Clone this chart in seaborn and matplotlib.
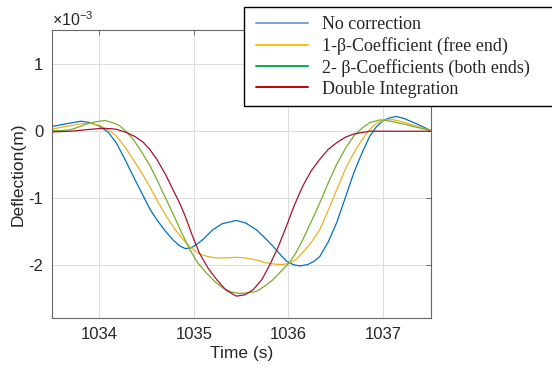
import numpy as np
import pandas as pd
import matplotlib
matplotlib.use("Agg")
import matplotlib.pyplot as plt
from matplotlib.lines import Line2D
from matplotlib.patches import Rectangle
import seaborn as sns

# ---- data (deflection in units of 1e-3 m) ----
labels = ["No correction", "1-β-Coefficient (free end)",
          "2- β-Coefficients (both ends)", "Double Integration"]

t_blue = [1033.5, 1033.65, 1033.81, 1033.9, 1034.0, 1034.1, 1034.18, 1034.27, 1034.36, 1034.45,
          1034.54, 1034.61, 1034.7, 1034.78, 1034.85, 1034.91, 1034.97, 1035.03, 1035.1, 1035.2,
          1035.3, 1035.45, 1035.55, 1035.66, 1035.75, 1035.84, 1035.92, 1035.98, 1036.05, 1036.12,
          1036.2, 1036.27, 1036.33, 1036.42, 1036.51, 1036.6, 1036.69, 1036.78, 1036.86, 1036.93,
          1037.0, 1037.07, 1037.14, 1037.22, 1037.32, 1037.4, 1037.5]
d_blue = [0.06, 0.10, 0.14, 0.12, 0.07, -0.03, -0.18, -0.42, -0.68, -0.93,
          -1.18, -1.33, -1.50, -1.63, -1.72, -1.76, -1.75, -1.70, -1.62, -1.48,
          -1.39, -1.34, -1.38, -1.48, -1.60, -1.73, -1.86, -1.95, -2.00, -2.02,
          -2.00, -1.95, -1.88, -1.66, -1.37, -1.00, -0.63, -0.32, -0.08, 0.06,
          0.15, 0.19, 0.21, 0.18, 0.12, 0.07, 0.0]

t_orange = [1033.5, 1033.6, 1033.69, 1033.8, 1033.9, 1034.0, 1034.1, 1034.18, 1034.27, 1034.36,
            1034.45, 1034.54, 1034.62, 1034.71, 1034.8, 1034.89, 1034.97, 1035.06, 1035.15, 1035.24,
            1035.35, 1035.45, 1035.55, 1035.66, 1035.75, 1035.84, 1035.93, 1036.01, 1036.08, 1036.15,
            1036.24, 1036.33, 1036.42, 1036.51, 1036.6, 1036.69, 1036.78, 1036.86, 1036.93, 1037.0,
            1037.07, 1037.15, 1037.23, 1037.32, 1037.41, 1037.5]
d_orange = [0.02, 0.05, 0.07, 0.10, 0.11, 0.08, 0.01, -0.08, -0.24, -0.43,
            -0.63, -0.85, -1.06, -1.28, -1.47, -1.63, -1.75, -1.84, -1.88, -1.90,
            -1.90, -1.89, -1.90, -1.93, -1.97, -1.99, -2.00, -1.98, -1.92, -1.82,
            -1.67, -1.48, -1.19, -0.88, -0.58, -0.33, -0.13, 0.02, 0.11, 0.15,
            0.17, 0.15, 0.12, 0.08, 0.04, 0.0]

t_green = [1033.5, 1033.6, 1033.69, 1033.78, 1033.87, 1033.96, 1034.06, 1034.14, 1034.22, 1034.29,
           1034.36, 1034.45, 1034.54, 1034.61, 1034.71, 1034.78, 1034.87, 1034.96, 1035.04, 1035.13,
           1035.22, 1035.31, 1035.4, 1035.49, 1035.57, 1035.66, 1035.75, 1035.84, 1035.92, 1036.01,
           1036.08, 1036.15, 1036.24, 1036.33, 1036.42, 1036.51, 1036.6, 1036.69, 1036.78, 1036.86,
           1036.97, 1037.08, 1037.21, 1037.35, 1037.5]
d_green = [0.0, 0.0, 0.01, 0.05, 0.10, 0.13, 0.15, 0.12, 0.07, -0.02,
           -0.13, -0.32, -0.53, -0.73, -1.03, -1.24, -1.52, -1.78, -1.97, -2.12,
           -2.25, -2.35, -2.41, -2.43, -2.42, -2.40, -2.32, -2.22, -2.10, -1.97,
           -1.82, -1.63, -1.36, -1.08, -0.78, -0.50, -0.27, -0.08, 0.04, 0.12,
           0.16, 0.14, 0.10, 0.05, 0.0]

t_red = [1033.5, 1033.7, 1033.85, 1034.0, 1034.1, 1034.18, 1034.29, 1034.38, 1034.47, 1034.54,
         1034.61, 1034.7, 1034.78, 1034.85, 1034.91, 1034.98, 1035.06, 1035.15, 1035.24, 1035.34,
         1035.45, 1035.54, 1035.63, 1035.72, 1035.8, 1035.89, 1035.98, 1036.06, 1036.15, 1036.24,
         1036.33, 1036.42, 1036.51, 1036.6, 1036.69, 1036.86, 1037.0, 1037.5]
d_red = [-0.02, -0.01, 0.01, 0.03, 0.03, 0.02, -0.03, -0.09, -0.18, -0.29,
         -0.43, -0.65, -0.88, -1.08, -1.28, -1.55, -1.83, -2.05, -2.22, -2.38,
         -2.47, -2.45, -2.37, -2.22, -2.01, -1.74, -1.42, -1.12, -0.83, -0.60,
         -0.43, -0.28, -0.18, -0.10, -0.05, -0.01, -0.01, -0.01]

x_ticks = [1034, 1035, 1036, 1037]
y_ticks = [-2, -1, 0, 1]

line_colors = ["#0072BD", "#EDB120", "#77AC30", "#A2142F"]
legend_colors = ["#7F9FD8", "#FFC000", "#00B050", "#C00000"]

# ---- build long-form table ----
frames = []
for lab, t, d in zip(labels, [t_blue, t_orange, t_green, t_red],
                     [d_blue, d_orange, d_green, d_red]):
    frames.append(pd.DataFrame({"t": t, "d": d, "series": lab}))
df = pd.concat(frames, ignore_index=True)

sns.set_style("white")
plt.rcParams["font.family"] = ["Liberation Sans", "DejaVu Sans"]
plt.rcParams["axes.unicode_minus"] = False
plt.rcParams["mathtext.fontset"] = "custom"
plt.rcParams["mathtext.rm"] = "Liberation Sans"
plt.rcParams["mathtext.it"] = "Liberation Sans"

fig = plt.figure(figsize=(5.52, 3.72), dpi=100)
ax = fig.add_axes([0.0937, 0.1444, 0.780 - 0.0937, 0.9194 - 0.1444])

sns.lineplot(data=df, x="t", y="d", hue="series", hue_order=labels,
             palette=line_colors, sort=False, estimator=None, legend=False,
             linewidth=0.9, ax=ax)

ax.set_xlim(1033.5, 1037.5)
ax.set_ylim(-2.8, 1.5)
ax.set_xticks(x_ticks)
ax.set_yticks(y_ticks)
ax.set_xticklabels([str(v) for v in x_ticks])
ax.set_yticklabels([str(v) for v in y_ticks])
ax.grid(True, color="#dcdcdc", linewidth=0.7)
ax.set_axisbelow(True)
ax.tick_params(direction="in", length=3.5, width=0.6, colors="#555555",
               labelcolor="#262626", labelsize=12, top=True, right=True,
               pad=6)
for s in ax.spines.values():
    s.set_color("#666666")
    s.set_linewidth(0.8)

ax.set_xlabel("Time (s)", fontsize=12.5, color="#262626", labelpad=3)
ax.set_ylabel("Deflection(m)", fontsize=12.5, color="#262626", labelpad=2)
ax.text(0.0, 1.005, r"$\times10^{-3}$", transform=ax.transAxes,
        ha="left", va="bottom", fontsize=11.5, color="#262626")

# overlay legend box (extends past the right edge)
fig.patches.append(Rectangle((244 / 552, (372 - 106) / 372), 0.6, 99 / 372,
                             transform=fig.transFigure, facecolor="white",
                             edgecolor="black", linewidth=1.0, zorder=5))
handles = [Line2D([0], [0], color=c, linewidth=1.4) for c in legend_colors]
leg = fig.legend(handles, labels, loc="upper left",
                 bbox_to_anchor=(256 / 552, (372 - 16) / 372),
                 frameon=False, handlelength=2.9, handletextpad=0.78,
                 labelspacing=0.22, borderpad=0.0, borderaxespad=0.0,
                 prop={"family": "Liberation Serif", "size": 13})
leg.set_zorder(6)

fig.savefig("out.png", dpi=100)
